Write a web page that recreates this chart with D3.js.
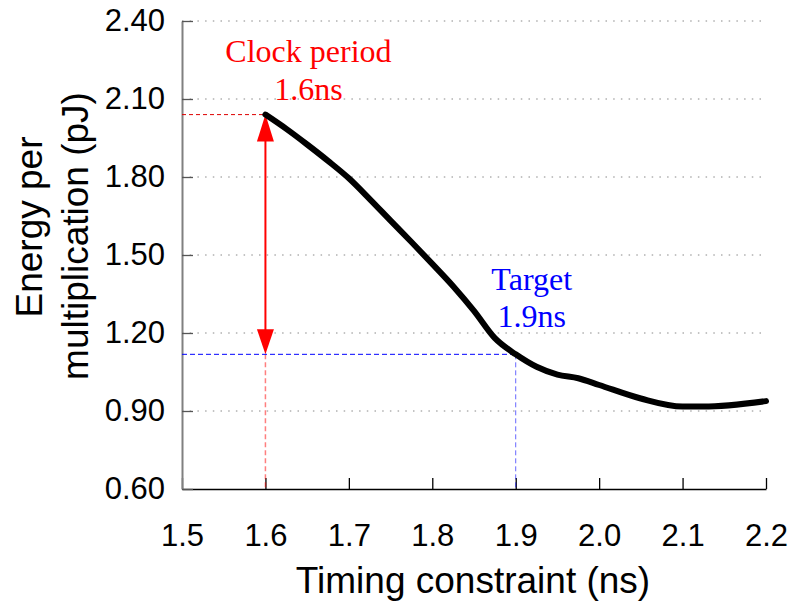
<!DOCTYPE html>
<html>
<head>
<meta charset="utf-8">
<script src="https://cdn.jsdelivr.net/npm/d3@7"></script>
<style>
  body { margin: 0; background: #fff; }
  svg { display: block; }
</style>
</head>
<body>
<svg id="chart" width="797" height="608"></svg>
<script>
// data
const timing = [1.6, 1.625, 1.65, 1.675, 1.7, 1.725, 1.75, 1.775, 1.8, 1.825, 1.85, 1.875, 1.9, 1.925, 1.95, 1.975, 2.0, 2.05, 2.1, 2.125, 2.2];
const energy = [2.04, 1.985, 1.925, 1.862, 1.795, 1.715, 1.632, 1.55, 1.466, 1.38, 1.285, 1.18, 1.118, 1.07, 1.04, 1.026, 1.0, 0.948, 0.917, 0.917, 0.938];

const xTicks = [1.5, 1.6, 1.7, 1.8, 1.9, 2.0, 2.1, 2.2];
const yTicks = [0.6, 0.9, 1.2, 1.5, 1.8, 2.1, 2.4];

// annotation points
const clockPeriod = 1.6, clockEnergy = 2.04;
const targetTiming = 1.9, targetEnergy = 1.118;
const clockLabel = ["Clock period", "1.6ns"];
const targetLabel = ["Target", "1.9ns"];

const svg = d3.select("#chart");
const margin = { top: 21, right: 31, bottom: 119, left: 182 };
const width = 797 - margin.left - margin.right;
const height = 608 - margin.top - margin.bottom;

const g = svg.append("g")
  .attr("transform", `translate(${margin.left},${margin.top})`);

const x = d3.scaleLinear().domain([1.5, 2.2]).range([0, width]);
const y = d3.scaleLinear().domain([0.6, 2.4]).range([height, 0]);

// dotted gridlines
g.selectAll("line.grid")
  .data(yTicks.slice(1))
  .enter()
  .append("line")
  .attr("class", "grid")
  .attr("x1", 0)
  .attr("x2", width)
  .attr("y1", d => y(d))
  .attr("y2", d => y(d))
  .attr("stroke", "#888")
  .attr("stroke-width", 1)
  .attr("stroke-dasharray", "1.5,6.2");

// axes
const xAxis = g.append("g")
  .attr("transform", `translate(0,${height})`)
  .call(d3.axisBottom(x).tickValues(xTicks).tickFormat(d3.format(".1f"))
    .tickSizeInner(-11).tickSizeOuter(0).tickPadding(35));
xAxis.select(".domain").attr("stroke", "#000").attr("stroke-width", 1.3);
xAxis.selectAll(".tick line").attr("stroke", "#000").attr("stroke-width", 1.3);
xAxis.selectAll("text")
  .attr("font-family", "Arial, 'Liberation Sans', sans-serif")
  .attr("font-size", 31)
  .attr("fill", "#000");

const yAxis = g.append("g")
  .call(d3.axisLeft(y).tickValues(yTicks).tickFormat(d3.format(".2f"))
    .tickSizeInner(-11).tickSizeOuter(0).tickPadding(17));
yAxis.select(".domain").attr("stroke", "#808080").attr("stroke-width", 2);
yAxis.selectAll(".tick line").attr("stroke", "#555").attr("stroke-width", 1.3);
yAxis.selectAll("text")
  .attr("font-family", "Arial, 'Liberation Sans', sans-serif")
  .attr("font-size", 31)
  .attr("fill", "#000");

// guide lines
g.append("line")
  .attr("x1", 0).attr("x2", x(clockPeriod))
  .attr("y1", y(clockEnergy)).attr("y2", y(clockEnergy))
  .attr("stroke", "#d00").attr("stroke-width", 1)
  .attr("stroke-dasharray", "4,3");

g.append("line")
  .attr("x1", x(clockPeriod)).attr("x2", x(clockPeriod))
  .attr("y1", y(targetEnergy)).attr("y2", height)
  .attr("stroke", "rgba(255,0,0,0.5)").attr("stroke-width", 1.5)
  .attr("stroke-dasharray", "5,3");

g.append("line")
  .attr("x1", 0).attr("x2", x(targetTiming))
  .attr("y1", y(targetEnergy)).attr("y2", y(targetEnergy))
  .attr("stroke", "#00f").attr("stroke-width", 1)
  .attr("stroke-dasharray", "5,3");

g.append("line")
  .attr("x1", x(targetTiming)).attr("x2", x(targetTiming))
  .attr("y1", y(targetEnergy)).attr("y2", height)
  .attr("stroke", "rgba(0,0,255,0.6)").attr("stroke-width", 1)
  .attr("stroke-dasharray", "5,3");

// double arrow
const ax = x(clockPeriod), aTop = y(clockEnergy), aBot = y(targetEnergy);
g.append("line")
  .attr("x1", ax).attr("x2", ax)
  .attr("y1", aTop + 20).attr("y2", aBot - 20)
  .attr("stroke", "#f00").attr("stroke-width", 2);
g.append("path")
  .attr("d", `M${ax},${aTop} L${ax - 8.5},${aTop + 27} L${ax + 8.5},${aTop + 27} Z`)
  .attr("fill", "#f00");
g.append("path")
  .attr("d", `M${ax},${aBot} L${ax - 8.5},${aBot - 25} L${ax + 8.5},${aBot - 25} Z`)
  .attr("fill", "#f00");

// curve
const pts = timing.map((t, i) => ({ t: t, e: energy[i] }));
g.append("path")
  .datum(pts)
  .attr("fill", "none")
  .attr("stroke", "#000")
  .attr("stroke-width", 6)
  .attr("stroke-linecap", "round")
  .attr("stroke-linejoin", "round")
  .attr("d", d3.line().x(d => x(d.t)).y(d => y(d.e)).curve(d3.curveMonotoneX));

// annotation text
g.selectAll("text.clock")
  .data(clockLabel)
  .enter()
  .append("text")
  .attr("class", "clock")
  .attr("x", x(clockPeriod) + 43)
  .attr("y", (d, i) => 41 + i * 38)
  .attr("text-anchor", "middle")
  .attr("font-family", "'Times New Roman', 'Liberation Serif', serif")
  .attr("font-size", 32)
  .attr("fill", "#f00")
  .text(d => d);

g.selectAll("text.target")
  .data(targetLabel)
  .enter()
  .append("text")
  .attr("class", "target")
  .attr("x", x(targetTiming) + 16)
  .attr("y", (d, i) => 269 + i * 37)
  .attr("text-anchor", "middle")
  .attr("font-family", "'Times New Roman', 'Liberation Serif', serif")
  .attr("font-size", 32)
  .attr("fill", "#00f")
  .text(d => d);

// axis titles
svg.append("text")
  .attr("x", 473)
  .attr("y", 593)
  .attr("text-anchor", "middle")
  .attr("font-family", "Arial, 'Liberation Sans', sans-serif")
  .attr("font-size", 37)
  .text("Timing constraint (ns)");

svg.append("text")
  .attr("transform", "translate(42,227) rotate(-90)")
  .attr("text-anchor", "middle")
  .attr("font-family", "Arial, 'Liberation Sans', sans-serif")
  .attr("font-size", 37)
  .text("Energy per");

svg.append("text")
  .attr("transform", "translate(88,236) rotate(-90)")
  .attr("text-anchor", "middle")
  .attr("font-family", "Arial, 'Liberation Sans', sans-serif")
  .attr("font-size", 37)
  .text("multiplication (pJ)");
</script>
</body>
</html>
